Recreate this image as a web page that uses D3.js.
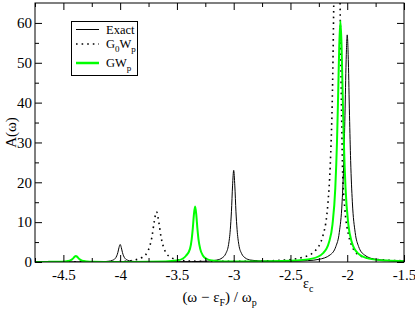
<!DOCTYPE html>
<html lang="en">
<head>
    <meta charset="UTF-8">
    <title>Spectral function A(w)</title>
    <script src="https://d3js.org/d3.v7.min.js"></script>
    <style>
        * {
            margin: 0;
            padding: 0;
        }
        body {
            background-color: white;
            width: 415px;
            height: 309px;
            overflow: hidden;
        }
        text {
            font-family: "Liberation Serif", "DejaVu Serif", serif;
            fill: black;
        }
    </style>
</head>
<body>
<script>
// values
const xTicks = [-4.5, -4, -3.5, -3, -2.5, -2, -1.5];
const yTicks = [0, 10, 20, 30, 40, 50, 60];

// Exact (black solid)
const exactPts = [
    [-4.75, 0.01], [-4.25, 0.03], [-4.15, 0.09], [-4.10, 0.2], [-4.07, 0.4], [-4.045, 0.84],
    [-4.03, 1.54], [-4.02, 2.4], [-4.01, 3.65], [-4.0, 4.4], [-3.99, 3.65], [-3.98, 2.4],
    [-3.97, 1.54], [-3.955, 0.84], [-3.93, 0.4], [-3.90, 0.2], [-3.85, 0.09], [-3.75, 0.05],
    [-3.5, 0.06], [-3.25, 0.18], [-3.15, 0.48], [-3.10, 1.06], [-3.07, 2.1], [-3.045, 4.4],
    [-3.03, 8.1], [-3.02, 12.6], [-3.01, 19.1], [-3.0, 23], [-2.99, 19.1], [-2.98, 12.6],
    [-2.97, 8.1], [-2.955, 4.4], [-2.93, 2.1], [-2.90, 1.06], [-2.85, 0.48], [-2.75, 0.25],
    [-2.5, 0.2], [-2.35, 0.34], [-2.25, 0.66], [-2.15, 1.8], [-2.10, 3.9], [-2.07, 7.4],
    [-2.045, 15.1], [-2.03, 25.5], [-2.02, 36.8], [-2.01, 50.2], [-2.0, 57], [-1.99, 50.2],
    [-1.98, 36.8], [-1.97, 25.5], [-1.955, 15.1], [-1.93, 7.4], [-1.90, 3.9], [-1.85, 1.8],
    [-1.75, 0.66], [-1.6, 0.3], [-1.5, 0.2]
];

// G0Wp (black dotted)
const g0wpPts = [
    [-4.75, 0.02], [-4.3, 0.03], [-4.0, 0.1], [-3.88, 0.48], [-3.80, 1.26], [-3.76, 2.5],
    [-3.74, 3.9], [-3.72, 6.3], [-3.70, 10.1], [-3.68, 12.6], [-3.66, 10.1], [-3.64, 6.3],
    [-3.62, 3.9], [-3.60, 2.5], [-3.56, 1.26], [-3.48, 0.48], [-3.38, 0.22], [-3.0, 0.15],
    [-2.6, 0.4], [-2.39, 1.2], [-2.29, 2.6], [-2.21, 7], [-2.17, 14.8], [-2.15, 24],
    [-2.13, 43], [-2.11, 83], [-2.09, 120], [-2.07, 80], [-2.05, 38], [-2.04, 22],
    [-2.02, 13], [-1.99, 7], [-1.95, 3.5], [-1.89, 1.6], [-1.79, 0.8], [-1.6, 0.4], [-1.5, 0.3]
];

// GWp (green)
const gwpPts = [
    [-4.75, 0.02], [-4.64, 0.03], [-4.54, 0.06], [-4.49, 0.12], [-4.46, 0.23], [-4.435, 0.46],
    [-4.42, 0.75], [-4.41, 1.04], [-4.40, 1.35], [-4.39, 1.5], [-4.38, 1.35], [-4.37, 1.04],
    [-4.36, 0.75], [-4.345, 0.46], [-4.32, 0.23], [-4.29, 0.12], [-4.24, 0.06], [-4.14, 0.03],
    [-3.9, 0.03], [-3.6, 0.14], [-3.5, 0.38], [-3.45, 0.82], [-3.42, 1.57], [-3.385, 3.3],
    [-3.37, 5.7], [-3.36, 8.5], [-3.35, 12.0], [-3.34, 13.9], [-3.33, 12.0], [-3.32, 8.5],
    [-3.31, 5.7], [-3.295, 3.3], [-3.27, 1.57], [-3.24, 0.82], [-3.19, 0.38], [-3.09, 0.14],
    [-2.8, 0.1], [-2.5, 0.3], [-2.31, 0.85], [-2.21, 2.3], [-2.16, 5.0], [-2.13, 9.4],
    [-2.105, 18.6], [-2.09, 30.3], [-2.08, 41.9], [-2.07, 54.5], [-2.06, 60.5], [-2.05, 54.5],
    [-2.04, 41.9], [-2.03, 30.3], [-2.015, 18.6], [-1.99, 9.4], [-1.96, 5.0], [-1.91, 2.3],
    [-1.81, 0.85], [-1.65, 0.35], [-1.5, 0.2]
];

const W = 415, H = 309;
const pLeft = 35, pRight = 404, pTop = 3, pBottom = 262;
const serif = "'Liberation Serif', 'DejaVu Serif', serif";

const svg = d3.select("body").append("svg")
    .attr("width", W)
    .attr("height", H);

const x = d3.scaleLinear().domain([-4.75, -1.5]).range([pLeft, pRight]);
const y = d3.scaleLinear().domain([0, 65]).range([pBottom, pTop]);

svg.append("clipPath").attr("id", "plotclip")
    .append("rect")
    .attr("x", pLeft).attr("y", pTop)
    .attr("width", pRight - pLeft).attr("height", pBottom - pTop);

const line = d3.line()
    .x(d => x(d[0]))
    .y(d => y(d[1]))
    .curve(d3.curveMonotoneX);

const curves = svg.append("g").attr("clip-path", "url(#plotclip)");

curves.append("path")
    .datum(exactPts)
    .attr("d", line)
    .attr("fill", "none")
    .attr("stroke", "black")
    .attr("stroke-width", 1);

curves.append("path")
    .datum(g0wpPts)
    .attr("d", line)
    .attr("fill", "none")
    .attr("stroke", "black")
    .attr("stroke-width", 1.6)
    .attr("stroke-dasharray", "1.6,4");

curves.append("path")
    .datum(gwpPts)
    .attr("d", line)
    .attr("fill", "none")
    .attr("stroke", "#00ff00")
    .attr("stroke-width", 2);

// frame + inward ticks on all four sides (grace style)
const majorLen = 7, minorLen = 4;

const xMinor = d3.range(-4.75, -1.5 + 1e-9, 0.25).filter(v => !xTicks.some(t => Math.abs(t - v) < 1e-6));
const yMinor = d3.range(5, 65, 10);

function addAxis(axisFn, scale, major, minor, tx, ty, showLabels) {
    const gMaj = svg.append("g")
        .attr("transform", `translate(${tx},${ty})`)
        .call(axisFn(scale).tickValues(major).tickSize(-majorLen).tickPadding(majorLen + 4)
            .tickFormat(showLabels ? d => String(d) : ""));
    gMaj.attr("font-family", serif).attr("font-size", 15);
    gMaj.select(".domain").remove();
    gMaj.selectAll("text")
        .style("font-family", serif)
        .style("font-size", "15px");
    const gMin = svg.append("g")
        .attr("transform", `translate(${tx},${ty})`)
        .call(axisFn(scale).tickValues(minor).tickSize(-minorLen).tickFormat(""));
    gMin.select(".domain").remove();
    return gMaj;
}

const xb = addAxis(d3.axisBottom, x, xTicks, xMinor, 0, pBottom, true);
xb.selectAll("text").attr("dy", "0.45em");
addAxis(d3.axisTop, x, xTicks, xMinor, 0, pTop, false);
const yl = addAxis(d3.axisLeft, y, yTicks, yMinor, pLeft, 0, true);
yl.selectAll("text").attr("dx", "8px");
addAxis(d3.axisRight, y, yTicks, yMinor, pRight, 0, false);

svg.append("rect")
    .attr("x", pLeft).attr("y", pTop)
    .attr("width", pRight - pLeft).attr("height", pBottom - pTop)
    .attr("fill", "none")
    .attr("stroke", "black")
    .attr("stroke-width", 1);

// axis titles
svg.append("text")
    .attr("transform", `translate(16,${(pTop + pBottom) / 2}) rotate(-90)`)
    .attr("text-anchor", "middle")
    .style("font-size", "15px")
    .text("A(ω)");

const xt = svg.append("text")
    .attr("x", (pLeft + pRight) / 2)
    .attr("y", 302)
    .attr("text-anchor", "middle")
    .style("font-size", "15px");
xt.append("tspan").text("(ω − ε");
xt.append("tspan").attr("dy", 4).style("font-size", "10px").text("F");
xt.append("tspan").attr("dy", -4).text(") / ω");
xt.append("tspan").attr("dy", 4).style("font-size", "10px").text("p");

const ec = svg.append("text")
    .attr("x", 303)
    .attr("y", 288)
    .style("font-size", "14px");
ec.append("tspan").text("ε");
ec.append("tspan").attr("dy", 4).style("font-size", "10px").text("c");

// legend
const legend = svg.append("g");
legend.append("rect")
    .attr("x", 71.5).attr("y", 21.5)
    .attr("width", 66).attr("height", 54)
    .attr("fill", "white")
    .attr("stroke", "black")
    .attr("stroke-width", 1);

const legendItems = [
    { label: ["Exact"], color: "black", width: 1, dash: null },
    { label: ["G", "0", "W", "p"], color: "black", width: 1.6, dash: "1.6,4" },
    { label: ["GW", "p"], color: "#00ff00", width: 2.5, dash: null }
];
const legendY = [29.5, 44, 63];

legendItems.forEach((item, i) => {
    const ly = legendY[i];
    legend.append("line")
        .attr("x1", 76).attr("x2", 99)
        .attr("y1", ly).attr("y2", ly)
        .attr("stroke", item.color)
        .attr("stroke-width", item.width)
        .attr("stroke-dasharray", item.dash);
    const t = legend.append("text")
        .attr("x", 106)
        .attr("y", ly + 4)
        .style("font-size", "12.5px");
    item.label.forEach((part, j) => {
        const sub = j % 2 === 1;
        t.append("tspan")
            .attr("dy", j === 0 ? 0 : (sub ? 4 : -4))
            .style("font-size", sub ? "9px" : "12.5px")
            .text(part);
    });
});
</script>
</body>
</html>
